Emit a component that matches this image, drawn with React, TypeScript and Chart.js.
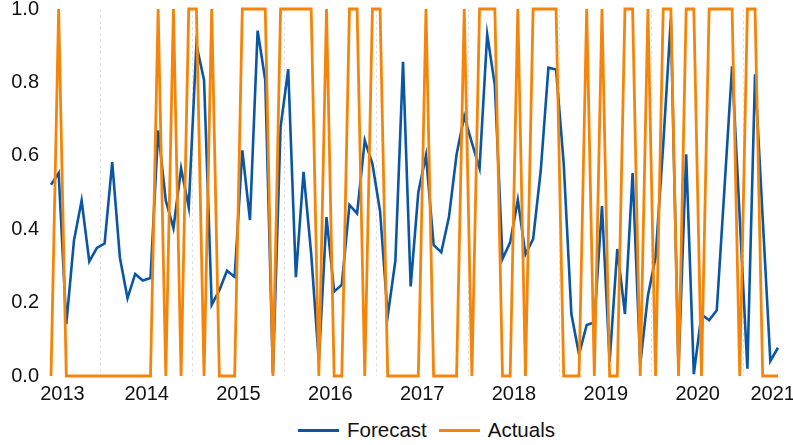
import React, { useEffect, useRef } from 'react';
import { Chart, registerables } from 'chart.js';

Chart.register(...registerables);

// ---- data -------------------------------------------------------------
// Monthly observations, first month December 2012, plotted at mid-month.
const START_YEAR = 2012;
const START_MONTH = 12;

const forecast: number[] = [
  0.521, 0.553, 0.141, 0.369, 0.478, 0.312, 0.349, 0.361, 0.583, 0.323, 0.212, 0.278,
  0.26, 0.267, 0.669, 0.478, 0.403, 0.566, 0.46, 0.903, 0.806, 0.194, 0.234, 0.287,
  0.27, 0.615, 0.425, 0.941, 0.806, 0.008, 0.678, 0.836, 0.269, 0.556, 0.333, 0.04,
  0.433, 0.23, 0.249, 0.466, 0.443, 0.642, 0.578, 0.449, 0.164, 0.314, 0.856, 0.244,
  0.501, 0.601, 0.357, 0.337, 0.433, 0.604, 0.708, 0.635, 0.566, 0.931, 0.792, 0.319,
  0.364, 0.48, 0.332, 0.373, 0.56, 0.84, 0.835, 0.578, 0.169, 0.059, 0.139, 0.146,
  0.463, 0.039, 0.346, 0.169, 0.553, 0.032, 0.219, 0.323, 0.63, 0.974, 0.02, 0.604,
  0.005, 0.168, 0.152, 0.179, 0.51, 0.844, 0.43, 0.02, 0.822, 0.43, 0.041, 0.077,
];

const actuals: number[] = [
  0, 1, 0, 0, 0, 0, 0, 0, 0, 0, 0, 0,
  0, 0, 1, 0, 1, 0, 1, 1, 0, 1, 0, 0,
  0, 1, 1, 1, 1, 0, 1, 1, 1, 1, 1, 0,
  1, 0, 0, 1, 1, 0, 1, 1, 0, 0, 0, 0,
  0, 1, 0, 0, 0, 0, 1, 0, 1, 1, 1, 0,
  0, 1, 0, 1, 1, 1, 1, 0, 0, 0, 1, 0,
  1, 0, 0, 1, 1, 0, 1, 0, 1, 1, 0, 1,
  1, 0, 1, 1, 1, 1, 0, 1, 1, 0, 0, 0,
];

const yearLabels: string[] = ['2013', '2014', '2015', '2016', '2017', '2018', '2019', '2020', '2021'];
const yTickValues: number[] = [0, 0.2, 0.4, 0.6, 0.8, 1.0];
const seriesNames: string[] = ['Forecast', 'Actuals'];

// ---- styles -----------------------------------------------------------
const BLUE = '#0b56a4';
const ORANGE = '#f5850a';
const TEXT = '#111111';
const FONT = "'Liberation Sans', Arial, Helvetica, sans-serif";
const FONT_SIZE = 20;

const monthIndex = (year: number, month: number) => (year - START_YEAR) * 12 + (month - START_MONTH);
// the 1st of a month sits half a step before that month's mid-month point
const dayOneOf = (year: number, month: number) => monthIndex(year, month) - 0.5;

export default function App() {
  const canvasRef = useRef<HTMLCanvasElement | null>(null);

  useEffect(() => {
    document.body.style.margin = '0';
    const canvas = canvasRef.current;
    if (!canvas) return;
    const lastIndex = forecast.length - 1;

    const chart = new Chart(canvas, {
      type: 'line',
      data: {
        datasets: [
          {
            label: seriesNames[0],
            data: forecast.map((y, i) => ({ x: i, y })),
            borderColor: BLUE,
            backgroundColor: BLUE,
            borderWidth: 2.6,
            pointRadius: 0,
            tension: 0,
            order: 1,
            clip: false as any,
          },
          {
            label: seriesNames[1],
            data: actuals.map((y, i) => ({ x: i, y })),
            borderColor: ORANGE,
            backgroundColor: ORANGE,
            borderWidth: 2.8,
            pointRadius: 0,
            tension: 0,
            order: 0,
            clip: false as any,
          },
        ],
      },
      options: {
        animation: false,
        responsive: false,
        maintainAspectRatio: false,
        layout: { padding: 0 },
        plugins: { legend: { display: false }, tooltip: { enabled: false } },
        scales: {
          x: {
            type: 'linear',
            min: 0,
            max: lastIndex,
            afterBuildTicks: (axis: any) => {
              const ticks: any[] = [];
              yearLabels.forEach((lab) => {
                const yr = Number(lab);
                // keep the edge year labels inside the plotted range
                const pos = Math.min(Math.max(dayOneOf(yr, 1), 1.5), lastIndex - 0.7);
                ticks.push({ value: pos, text: lab });
                const mid = dayOneOf(yr, 7);
                if (mid > 0 && mid < lastIndex) ticks.push({ value: mid, text: '' });
              });
              ticks.sort((a, b) => a.value - b.value);
              axis.ticks = ticks;
            },
            afterFit: (axis: any) => {
              axis.paddingLeft = 0;
              axis.paddingRight = 15;
            },
            ticks: {
              autoSkip: false,
              maxRotation: 0,
              minRotation: 0,
              padding: 6,
              color: TEXT,
              font: { family: FONT, size: FONT_SIZE },
              callback: (_v: any, i: number, ticks: any[]) => ticks[i].text ?? '',
            },
            grid: {
              drawTicks: false,
              lineWidth: 1,
              color: (ctx: any) => (ctx.tick && ctx.tick.text === '' ? 'rgba(0,0,0,0.12)' : 'rgba(0,0,0,0)'),
            },
            border: { display: false, dash: [3, 3] },
          },
          y: {
            min: 0,
            max: 1,
            afterBuildTicks: (axis: any) => {
              axis.ticks = yTickValues.map((v) => ({ value: v }));
            },
            afterFit: (axis: any) => {
              axis.width = 51;
              axis.paddingTop = 9;
              axis.paddingBottom = 0;
            },
            ticks: {
              padding: 12,
              color: TEXT,
              font: { family: FONT, size: FONT_SIZE },
              callback: (v: any) => Number(v).toFixed(1),
            },
            grid: { display: false, drawTicks: false },
            border: { display: false },
          },
        },
      },
    } as any);

    return () => chart.destroy();
  }, []);

  const legendItem = (name: string, color: string) => (
    <div key={name} style={{ display: 'flex', alignItems: 'center', marginRight: 12 }}>
      <span style={{ display: 'inline-block', width: 41, height: 3, background: color, marginRight: 8 }} />
      <span style={{ fontFamily: FONT, fontSize: 20.5, color: TEXT, lineHeight: '24px' }}>{name}</span>
    </div>
  );

  return (
    <div style={{ position: 'relative', width: 793, height: 445, background: '#fff' }}>
      <canvas ref={canvasRef} width={793} height={412} style={{ display: 'block' }} />
      <div style={{ position: 'absolute', left: 298, top: 418, display: 'flex', alignItems: 'center' }}>
        {legendItem(seriesNames[0], BLUE)}
        {legendItem(seriesNames[1], ORANGE)}
      </div>
    </div>
  );
}
